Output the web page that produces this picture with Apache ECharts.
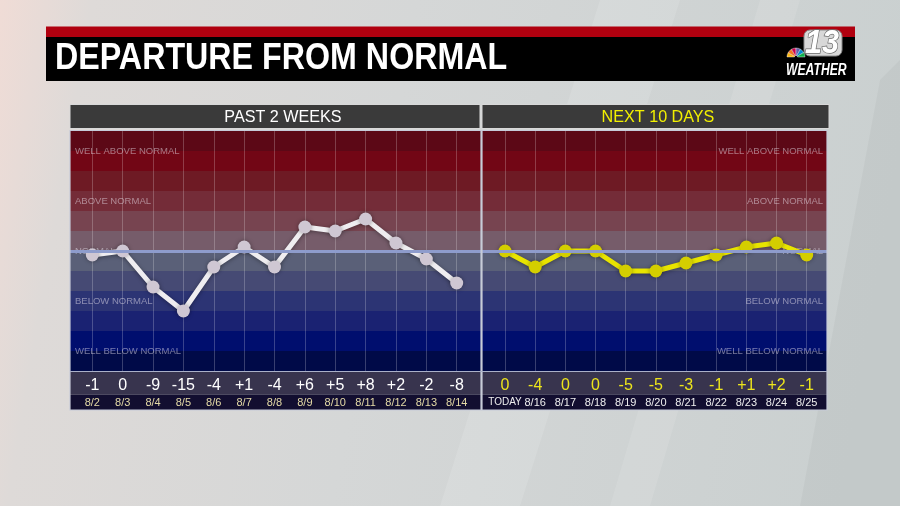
<!DOCTYPE html>
<html><head><meta charset="utf-8">
<script src="https://cdn.jsdelivr.net/npm/echarts@6/dist/echarts.min.js"></script>
<style>html,body{margin:0;padding:0;background:#d4d6d6}#c{width:900px;height:506px}</style>
</head><body><div id="c"></div>
<script>
const pastDates = ['8/2','8/3','8/4','8/5','8/6','8/7','8/8','8/9','8/10','8/11','8/12','8/13','8/14'];
const pastValues = [-1,0,-9,-15,-4,1,-4,6,5,8,2,-2,-8];
const nextDates = ['TODAY','8/16','8/17','8/18','8/19','8/20','8/21','8/22','8/23','8/24','8/25'];
const nextValues = [0,-4,0,0,-5,-5,-3,-1,1,2,-1];
const bandEdges = [-30,-25,-20,-15,-10,-5,0,5,10,15,20,25,30];
const bandColors = ['#000a48','#000e6e','#1a2272','#2c3474','#464a74','#5a6078','#765c6a','#774450','#742c38','#6e1a24','#720615','#5c0816'];
const bandLabelNames = ['WELL ABOVE NORMAL','ABOVE NORMAL','NORMAL','BELOW NORMAL','WELL BELOW NORMAL'];
const bandLabelLevels = [25,12.5,0,-12.5,-25];
const titleText = 'DEPARTURE FROM NORMAL';
const leftHeader = 'PAST 2 WEEKS';
const rightHeader = 'NEXT 10 DAYS';

const fmt = v => v > 0 ? '+' + v : String(v);
const chart = echarts.init(document.getElementById('c'));

const TOP = 131, H = 240;
const bandAreas = bandColors.map((c, i) => [{yAxis: bandEdges[i], itemStyle: {color: c, opacity: 1, borderWidth: 0}}, {yAxis: bandEdges[i + 1]}]);

function bgSeries(xi, yi) {
  return {
    type: 'line', xAxisIndex: xi, yAxisIndex: yi, data: [[0.5, 0]], symbolSize: 0, silent: true, z: 1,
    lineStyle: {opacity: 0},
    markArea: {silent: true, itemStyle: {opacity: 1, borderWidth: 0}, data: bandAreas},
    markLine: {silent: true, symbol: 'none', label: {show: false},
      lineStyle: {color: '#8e9ccc', width: 3, type: 'solid', opacity: 1}, data: [{yAxis: 0}]}
  };
}
function labelSeries(xi, yi, right) {
  return {
    type: 'scatter', xAxisIndex: xi, yAxisIndex: yi, symbolSize: 0, silent: true, z: 2,
    data: bandLabelLevels.map((l, i) => ({value: [right ? 1 : 0, l], name: bandLabelNames[i]})),
    label: {show: true, position: right ? 'left' : 'right', distance: right ? 4 : 5,
      formatter: p => p.name, color: 'rgba(236,230,240,0.62)', fontSize: 9.5,
      fontFamily: 'Liberation Sans, Arial, sans-serif'}
  };
}
function lineSeries(xi, yi, vals, lineColor, dotColor) {
  return {
    type: 'line', xAxisIndex: xi, yAxisIndex: yi, data: vals, z: 4,
    symbol: 'circle', symbolSize: 13,
    lineStyle: {color: lineColor, width: 5, shadowBlur: 4, shadowColor: 'rgba(0,0,0,0.35)', shadowOffsetY: 1},
    itemStyle: {color: dotColor, shadowBlur: 4, shadowColor: 'rgba(0,0,0,0.35)'}
  };
}
const hiddenX = i => ({type: 'value', gridIndex: i, min: 0, max: 1, show: false});
const yAx = i => ({type: 'value', gridIndex: i, min: -30, max: 30, show: false});
function catAxes(gi, dates, vals, valColor, dateColor) {
  return [
    {type: 'category', gridIndex: gi, data: dates, boundaryGap: false, position: 'bottom', z: 3,
      axisLine: {show: false}, axisTick: {show: false},
      splitLine: {show: true, lineStyle: {color: 'rgba(255,255,255,0.22)', width: 1}},
      axisLabel: {interval: 0, margin: 26, fontSize: 11, color: dateColor, fontFamily: 'Liberation Sans, Arial, sans-serif',
        formatter: v => v === 'TODAY' ? '{t|TODAY}' : v,
        rich: {t: {fontSize: 10, fontFamily: 'Liberation Sans, Arial, sans-serif', color: dateColor}}}},
    {type: 'category', gridIndex: gi, data: vals.map(fmt), boundaryGap: false, position: 'bottom', z: 3,
      axisLine: {show: false}, axisTick: {show: false}, splitLine: {show: false},
      axisLabel: {interval: 0, margin: 7, fontSize: 16, color: valColor, fontFamily: 'Liberation Sans, Arial, sans-serif'}}
  ];
}

const pastCat = catAxes(1, pastDates, pastValues, '#ffffff', '#e4daa6');
const nextCat = catAxes(3, nextDates, nextValues, '#ece41c', '#eeeeee');

const LOGO_FONT = 'Liberation Sans, Arial, sans-serif';
const peacockColors = ['#fcb711','#f37021','#cc004c','#6460aa','#0089d0','#0db14b'];
const peacock = peacockColors.map((c, i) => ({type: 'sector', z: 12, silent: true,
  shape: {cx: 796, cy: 57, r: 9, r0: 1.5, startAngle: Math.PI * (6 + i) / 6, endAngle: Math.PI * (7 + i) / 6},
  style: {fill: c, stroke: '#ffffff', lineWidth: 0.4}}));

const option = {
  animation: false,
  backgroundColor: {type: 'linear', x: 0, y: 0, x2: 1, y2: 0.3, colorStops: [
    {offset: 0, color: '#f0dcd6'}, {offset: 0.1, color: '#dedad8'}, {offset: 0.45, color: '#d5d7d7'}, {offset: 1, color: '#cad0d0'}]},
  grid: [
    {left: 70, top: TOP, width: 411, height: H},
    {left: 92.3, top: TOP, width: 364.4, height: H},
    {left: 482, top: TOP, width: 345, height: H},
    {left: 505, top: TOP, width: 301.7, height: H}
  ],
  xAxis: [hiddenX(0), pastCat[0], pastCat[1], hiddenX(2), nextCat[0], nextCat[1]],
  yAxis: [yAx(0), yAx(1), yAx(2), yAx(3)],
  series: [
    bgSeries(0, 0), labelSeries(0, 0, false),
    lineSeries(1, 1, pastValues, '#efedf0', '#cfc7d3'),
    bgSeries(3, 2), labelSeries(3, 2, true),
    lineSeries(4, 3, nextValues, '#e8e400', '#d4ce00')
  ],
  graphic: [
    {type: 'polygon', z: -10, silent: true, shape: {points: [[600,0],[680,0],[520,506],[440,506]]}, style: {fill: 'rgba(255,255,255,0.12)'}},
    {type: 'polygon', z: -10, silent: true, shape: {points: [[760,0],[800,0],[650,506],[610,506]]}, style: {fill: 'rgba(255,255,255,0.10)'}},
    {type: 'polygon', z: -10, silent: true, shape: {points: [[880,80],[900,60],[900,506],[800,506]]}, style: {fill: 'rgba(0,0,0,0.03)'}},
    // title bar
    {type: 'rect', z: 10, shape: {x: 46, y: 26.5, width: 809, height: 10.5}, style: {fill: '#b0000f'}},
    {type: 'rect', z: 10, shape: {x: 46, y: 37, width: 809, height: 44}, style: {fill: '#000000'}},
    {type: 'text', z: 11, x: 55, y: 59.5, scaleX: 0.895, style: {text: titleText, fill: '#ffffff', fontSize: 36, fontWeight: 'bold',
      verticalAlign: 'middle', align: 'left', fontFamily: 'Liberation Sans, Arial, sans-serif'}},
    // logo
    {type: 'rect', z: 11, silent: true, shape: {x: 804, y: 30, width: 38, height: 26, r: 6}, style: {fill: '#d8d8d8', stroke: '#8a8a8a', lineWidth: 1}},
    {type: 'text', z: 12, x: 822, y: 43.5, scaleX: 0.9, style: {text: '13', fill: '#ffffff', stroke: '#6a6a6a', lineWidth: 1.5, fontSize: 34, fontWeight: 'bold', fontStyle: 'italic',
      align: 'center', verticalAlign: 'middle', fontFamily: LOGO_FONT}},
    ...peacock,
    {type: 'text', z: 12, x: 786, y: 71, scaleX: 0.76, style: {text: 'WEATHER', fill: '#ffffff', fontSize: 16, fontWeight: 'bold', fontStyle: 'italic',
      align: 'left', verticalAlign: 'middle', fontFamily: LOGO_FONT}},
    // headers
    {type: 'rect', z: 5, shape: {x: 70, y: 104.5, width: 410, height: 24}, style: {fill: '#3a3a3a', stroke: '#d8d8d8', lineWidth: 1}},
    {type: 'rect', z: 5, shape: {x: 482, y: 104.5, width: 347, height: 24}, style: {fill: '#3a3a3a', stroke: '#d8d8d8', lineWidth: 1}},
    {type: 'text', z: 6, x: 283, y: 117, scaleX: 0.95, style: {text: leftHeader, fill: '#ffffff', fontSize: 17, align: 'center', verticalAlign: 'middle',
      fontFamily: 'Liberation Sans, Arial, sans-serif'}},
    {type: 'text', z: 6, x: 658, y: 117, scaleX: 0.95, style: {text: rightHeader, fill: '#f2f000', fontSize: 17, align: 'center', verticalAlign: 'middle',
      fontFamily: 'Liberation Sans, Arial, sans-serif'}},
    // label strips
    {type: 'rect', z: -1, shape: {x: 70, y: 372, width: 411, height: 22.5}, style: {fill: '#38344e'}},
    {type: 'rect', z: -1, shape: {x: 70, y: 394.5, width: 411, height: 15.5}, style: {fill: '#120e30'}},
    {type: 'rect', z: -1, shape: {x: 482, y: 372, width: 345, height: 22.5}, style: {fill: '#38344e'}},
    {type: 'rect', z: -1, shape: {x: 482, y: 394.5, width: 345, height: 15.5}, style: {fill: '#120e30'}},
    // panel borders
    {type: 'rect', z: 8, silent: true, shape: {x: 70, y: 130.5, width: 411, height: 279.5}, style: {fill: 'none', stroke: '#c6cad8', lineWidth: 1.2}},
    {type: 'rect', z: 8, silent: true, shape: {x: 482, y: 130.5, width: 345, height: 279.5}, style: {fill: 'none', stroke: '#c6cad8', lineWidth: 1.2}},
    {type: 'line', z: 8, silent: true, shape: {x1: 70, y1: 371.5, x2: 827, y2: 371.5}, style: {stroke: '#aab0c8', lineWidth: 1.2}}
  ]
};
chart.setOption(option);
</script></body></html>
